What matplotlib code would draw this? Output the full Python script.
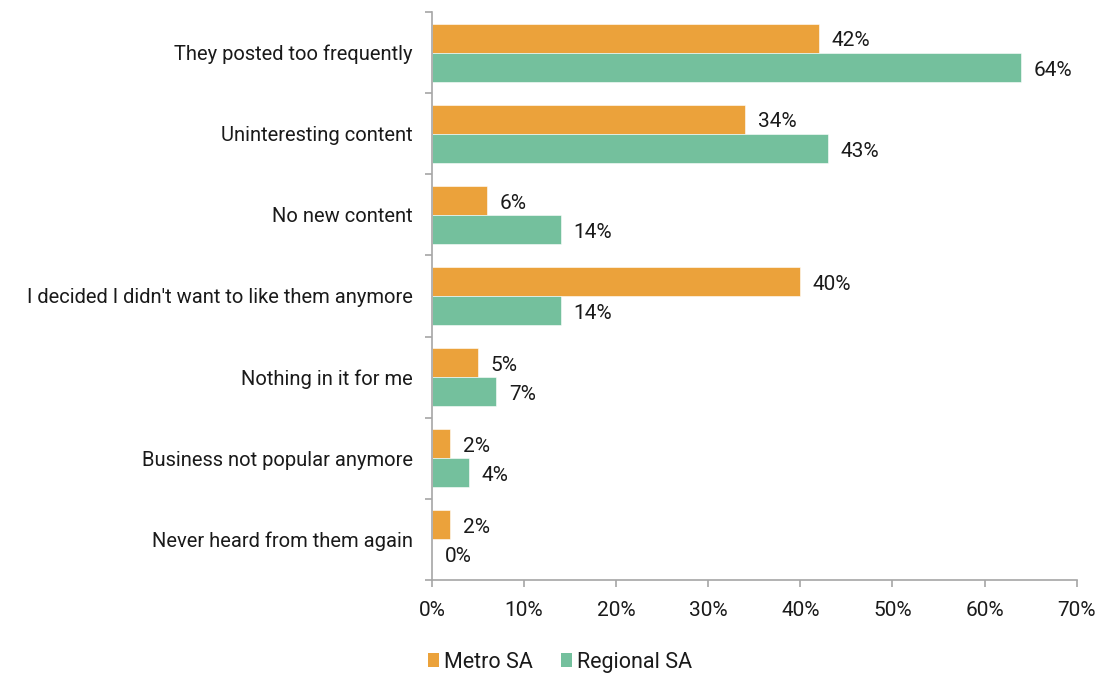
import matplotlib
matplotlib.use("Agg")
import matplotlib.pyplot as plt
import numpy as np
from matplotlib.patches import Patch

plt.rcParams['font.family'] = ['Roboto', 'DejaVu Sans']

categories = [
    "They posted too frequently",
    "Uninteresting content",
    "No new content",
    "I decided I didn't want to like them anymore",
    "Nothing in it for me",
    "Business not popular anymore",
    "Never heard from them again",
]
metro = [42, 34, 6, 40, 5, 2, 2]
regional = [64, 43, 14, 14, 7, 4, 0]
series_names = ["Metro SA", "Regional SA"]
xticks = [0, 10, 20, 30, 40, 50, 60, 70]

orange = "#EBA23B"
green = "#74C09D"
axis_gray = "#A6A6A6"
text_color = "#1a1a1a"

fig = plt.figure(figsize=(11.02, 6.75), dpi=100)
ax = fig.add_axes([0.392, 0.141, 0.585, 0.841])

n = len(categories)
y = np.arange(n)
h = 0.36
ax.barh(y - h / 2, metro, height=h, color=orange, edgecolor="white", linewidth=0.4)
ax.barh(y + h / 2, regional, height=h, color=green, edgecolor="white", linewidth=0.4)

for yi, m, r in zip(y, metro, regional):
    ax.annotate(f"{m}%", (m, yi - h / 2), xytext=(9, -2), textcoords="offset points",
                va="center", ha="left", fontsize=15, color=text_color)
    ax.annotate(f"{r}%", (r, yi + h / 2), xytext=(9, -2), textcoords="offset points",
                va="center", ha="left", fontsize=15, color=text_color)

ax.set_xlim(0, 70)
ax.set_ylim(n - 0.5, -0.5)
ax.set_xticks(xticks)
ax.set_xticklabels([f"{t}%" for t in xticks], fontsize=15, color=text_color)
ax.set_yticks(y)
ax.set_yticklabels(categories, fontsize=14.5, color=text_color)
ax.set_yticks(np.arange(n + 1) - 0.5, minor=True)

ax.tick_params(axis="y", which="major", length=0, pad=14)
ax.tick_params(axis="y", which="minor", length=5, color=axis_gray, width=1.2)
ax.tick_params(axis="x", which="major", length=5, color=axis_gray, width=1.2, pad=10)

for side in ["top", "right"]:
    ax.spines[side].set_visible(False)
for side in ["left", "bottom"]:
    ax.spines[side].set_color(axis_gray)
    ax.spines[side].set_linewidth(1.2)

handles = [Patch(facecolor=orange, edgecolor="none"), Patch(facecolor=green, edgecolor="none")]
fig.legend(handles, series_names, loc="center left", bbox_to_anchor=(0.371, 0.019), ncol=2,
           frameon=False, fontsize=15.5, handlelength=0.5, handleheight=0.6,
           handletextpad=0.25, columnspacing=1.3, labelcolor=text_color)

fig.savefig("out.png", dpi=100)
